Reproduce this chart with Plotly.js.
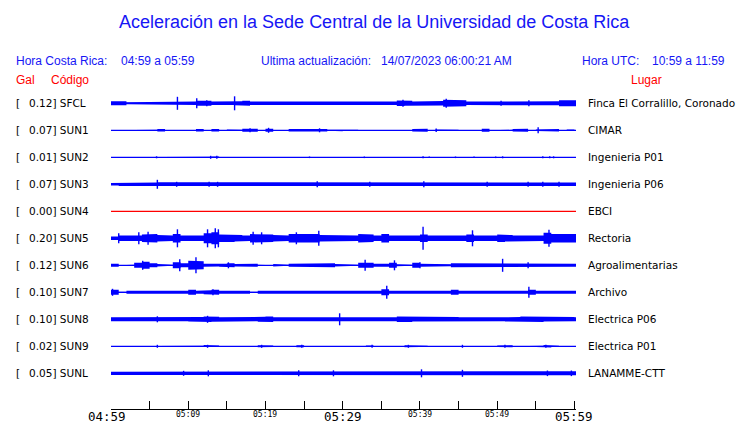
<!DOCTYPE html>
<html><head><meta charset="utf-8">
<script src="https://cdn.plot.ly/plotly-3.0.1.min.js"></script>
<style>html,body{margin:0;padding:0;background:#fff}#chart{width:740px;height:423px}</style>
</head><body><div id="chart"></div>
<script>
// ---- data ----
const stationCodes  = ['SFCL','SUN1','SUN2','SUN3','SUN4','SUN5','SUN6','SUN7','SUN8','SUN9','SUNL'];
const stationGal    = ['0.12','0.07','0.01','0.07','0.00','0.20','0.12','0.10','0.10','0.02','0.05'];
const stationPlaces = ['Finca El Corralillo, Coronado','CIMAR','Ingenieria P01','Ingenieria P06','EBCI','Rectoria',
                       'Agroalimentarias','Archivo','Electrica P06','Electrica P01','LANAMME-CTT'];
const stationColors = ['#0000ff','#0000ff','#0000ff','#0000ff','#ff0000','#0000ff','#0000ff','#0000ff','#0000ff','#0000ff','#0000ff'];

// minutes after 04:59 (start of each envelope sample)
const minuteStarts = [0,1,2,3,4,5,6,7,8,9,10,11,12,13,14,15,16,17,18,19,20,21,22,23,24,25,26,27,28,29,30,
  31,32,33,34,35,36,37,38,39,40,41,42,43,44,45,46,47,48,49,50,51,52,53,54,55,56,57,58,59,60];
const traceEnd = 60.25;

// envelope half-amplitude per minute (relative units, 27 = one row)
const envSFCL = [2,2,1,1.5,1,1.5,1,1.5,1.5,1.7, 1.7,2.5,2.5,1.7,1.7,1.7,2,2.5,1.7,1.7, 2.2,1.7,1.7,2.2,1.7,1.7,1.7,1.7,1.7,1.7,
  1.7,1.7,1.7,1.7,1.7,1.7,1.7,2.8,2.5,1.8, 1.8,1.8,2.2,3.5,3.2,3,1.8,1.8,1.8,1.8, 2,1.8,1.8,1.8,2,1.8,1.8,2,3,3, 3];
const envSUN1 = [0,0.7,0,0.7,0,0.5,1.3,0,0.5,0.5, 0,1.3,0,1.3,0,0.8,0.5,1.5,1.5,0, 1.5,0,0,1.2,1.5,1,1.5,1.3,0.5,1,
  0.5,0.5,0,0,0.5,0.6,0.6,0.6,0,1.3, 1.5,0,0.8,0.5,0.5,0,0.5,0,1.5,0, 0.5,0.5,1.3,1.5,0,0.8,1.3,1.3,0,0.8, 0];
const envSUN2 = [0,0,0,0,0,0,0,0,0,0, 0,0,0.6,0.8,0,0,0,0,0,0, 0,0,0,0,0,0,0,0,0,0,
  0,0,0,0,0,0,0,0,0,0, 0,0,0,0,0,0,0,0,0,0, 0,0,0,0,0,0,0,0,0,0, 0];
const envSUN3 = [1.2,1.8,1.4,1.4,1.6,1.8,2,1.8,1.8,1.8, 1.8,1.8,2,2,1.8,1.8,1.8,2,1.8,1.8, 1.8,1.8,2,1.8,1.8,1.8,1.8,1.8,1.8,1.8,
  1.8,1.8,1.8,2,1.8,1.8,1.8,2,2,1.8, 2,1.8,1.8,1.8,1.8,1.8,1.8,1.8,2,1.8, 1.8,1.8,1.8,1.8,2,1.8,2,1.8,2,1.8, 1.8];
const envSUN4 = [0,0,0,0,0,0,0,0,0,0, 0,0,0,0,0,0,0,0,0,0, 0,0,0,0,0,0,0,0,0,0,
  0,0,0,0,0,0,0,0,0,0, 0,0,0,0,0,0,0,0,0,0, 0,0,0,0,0,0,0,0,0,0, 0];
const envSUN5 = [1.8,2.8,2.3,2.8,3.7,4.2,3.2,2.8,4.2,2.8, 2.8,2.8,5,6,3.7,3.7,3.2,2.8,4.2,4.2, 3.7,3.2,2.8,4.2,4.2,4.2,4.2,3.2,2.8,2.8,
  2.8,2.8,4.2,3.7,2.8,4.2,2.8,2.8,2.8,2.8, 3.7,2.8,2.8,3.2,2.8,2.8,3.7,2.8,2.8,2.8, 3.7,3.2,2.8,3.2,3.2,2.8,5.5,4.2,4.2,4.7, 4.2];
const envSUN6 = [1.5,0,0.5,2.5,3.5,2,1.2,0.5,3,2, 4.5,4,1.5,1.2,1.5,2,1.2,1.5,1.5,0.5, 0,1.2,0.5,1.5,1.5,1.5,1.5,1.5,2,1.2,
  1,0.5,2.5,2.5,1.5,1.5,2.5,1,0.5,2.5, 1.5,1.5,1,1,2,1.8,1.5,1.5,1.5,1.5, 2,1.5,1.5,1.5,2,1.5,1.5,1.5,1.5,1.5, 1.5];
const envSUN7 = [2.5,0.5,1.5,1.5,1.5,1.5,1.5,2,1.5,1.5, 2.5,1.5,2,2.5,1.5,1.5,2,1.5,0.5,1.5, 1.5,1.5,1.5,1.5,1.5,1.5,1.5,1.5,1.5,1.5,
  1.5,1.5,1.5,1.5,1.5,3,1.5,1.5,1.5,1.5, 1.5,2,1.5,1.5,2.5,1.5,1.5,1.5,1.5,1.5, 1.5,2.2,1.5,1.5,2.5,1.5,1.5,1.5,1.5,1.5, 1.5];
const envSUN8 = [2,2,2,2,2,2,2.3,2,2.2,2, 2.2,2.3,2.8,2.5,2,2,2.3,2,2,2.5, 2.8,2,2,2,2.5,2.5,2.3,2,2.2,2.5,
  2,2,2,2.3,2.5,2.2,2,2.8,2.8,2.3, 2.5,2.3,2.2,2.5,2.3,2,2.2,2.2,2.5,2.5, 2,2.2,2.2,2.8,2.8,2.8,2.2,2.3,2.2,2.3, 2];
const envSUN9 = [0,0,0,0,0,0,0.6,0,0,0, 0,0.5,1.2,0.8,0,0,0,0,0,1, 0.8,0,0,0,1,0,0.5,0,0,0,
  0,0,0,0.8,0,0,0,0,1,0.8, 0.6,0,0,0,0,0.6,0,0,0,0, 0.8,1,0,0,0,0.6,1.2,0.5,0,0, 0];
const envSUNL = [1.6,1.8,1.8,1.8,1.8,1.8,1.8,1.8,1.8,2, 1.8,1.8,2,1.8,1.8,1.8,1.8,1.8,1.8,1.8, 1.8,1.8,1.8,1.8,2,1.8,1.8,1.8,2.2,1.8,
  1.8,1.8,1.8,1.8,1.8,1.8,1.8,1.8,1.8,2.3, 2.2,1.8,1.8,1.8,1.8,2.2,1.8,1.8,1.8,1.8, 1.8,1.8,1.8,1.8,1.8,1.8,2,1.8,1.8,1.8, 2];

// isolated peaks: [minute, half-amplitude]
const peaksSFCL = [[8.6,6.5],[11.1,5],[12.4,3],[16.0,7],[37.8,3.5],[43.4,4.5],[50.5,2.5],[54.1,3]];
const peaksSUN1 = [[18,2],[20.4,2.5],[27,2],[42.1,1.8],[55.3,3]];
const peaksSUN2 = [[5.9,1],[12.9,1.5],[13.7,1.5],[25.7,0.8],[32.8,0.8],[40.4,1],[41.2,0.8],[44.6,0.8],[47,0.8],[49.8,0.8],[50.7,1],[55.9,1],[56.8,1],[57.3,1]];
const peaksSUN3 = [[6,4.5],[8.5,2.5],[12.7,2.5],[13.8,2.5],[26.7,3],[33.5,2.5],[40.5,3],[48.7,2.5],[54,2.5],[55.9,2.5],[58,2.5]];
const peaksSUN4 = [];
const peaksSUN5 = [[1,5],[3.6,6],[4.8,6.5],[8.6,9],[12.5,9],[13.5,10],[13.9,9],[18.4,6.5],[19.5,6],[24,6],[26.9,7.5],[40.4,11.5],[46.8,8],[56.7,8.5]];
const peaksSUN6 = [[4.1,4.5],[8.9,6],[11.0,8],[15.2,3],[32.9,5.5],[36.7,5],[40,3],[50.7,6.5],[54,3]];
const peaksSUN7 = [[0.2,3.5],[13.2,3],[35.7,6.5],[54.1,5.5]];
const peaksSUN8 = [[6,3],[12.5,3.5],[29.6,6]];
const peaksSUN9 = [[6,1.5],[12.5,1.5],[19.5,1.5],[24.7,1.5],[33.8,1.5],[38.5,1.5],[45.5,1.5],[51,1.5],[56.3,1.5]];
const peaksSUNL = [[9.4,2.5],[12.6,3],[24.3,3],[28.8,3],[40.2,4],[45.5,3.5],[56.5,2.8],[59.6,2.8]];

const envelopes = [envSFCL,envSUN1,envSUN2,envSUN3,envSUN4,envSUN5,envSUN6,envSUN7,envSUN8,envSUN9,envSUNL];
const peaks = [peaksSFCL,peaksSUN1,peaksSUN2,peaksSUN3,peaksSUN4,peaksSUN5,peaksSUN6,peaksSUN7,peaksSUN8,peaksSUN9,peaksSUNL];

const tickTimes  = [0,5,10,15,20,25,30,35,40,45,50,55,60];
const labelTimes = [0,10,20,30,40,50,60];
const labelTexts = ['04:59','05:09','05:19','05:29','05:39','05:49','05:59'];

// ---- drawing ----
const AMP = 1/27;           // relative amplitude unit -> row units
const L = 111, W = 465, T = 90, H = 319, B = T + H;
const px = x => (x - L) / W;
const py = y => (B - y) / H;
const BLUE_TXT = 'rgb(22,22,245)';
const RED_TXT = '#ff0000';

const traces = [];
stationCodes.forEach((code, i) => {
  const c = -i, env = envelopes[i], col = stationColors[i];
  // envelope polygon (stepped)
  const xs = [], ys = [];
  for (let k = 0; k < minuteStarts.length; k++) {
    const t0 = minuteStarts[k], t1 = k + 1 < minuteStarts.length ? minuteStarts[k + 1] : traceEnd;
    xs.push(t0, t1); ys.push(c + env[k] * AMP, c + env[k] * AMP);
  }
  for (let k = minuteStarts.length - 1; k >= 0; k--) {
    const t0 = minuteStarts[k], t1 = k + 1 < minuteStarts.length ? minuteStarts[k + 1] : traceEnd;
    xs.push(t1, t0); ys.push(c - env[k] * AMP, c - env[k] * AMP);
  }
  traces.push({type:'scatter', mode:'lines', x:xs, y:ys, fill:'toself', fillcolor:col,
    line:{width:0, color:col}, hoverinfo:'skip'});
  // base trace line
  traces.push({type:'scatter', mode:'lines', x:[minuteStarts[0], traceEnd], y:[c, c],
    line:{width:1.3, color:col}, hoverinfo:'skip'});
  // isolated peaks
  const sx = [], sy = [];
  peaks[i].forEach(([t, a]) => { sx.push(t, t, null); sy.push(c - a * AMP, c + a * AMP, null); });
  if (sx.length) traces.push({type:'scatter', mode:'lines', x:sx, y:sy, line:{width:1.4, color:col}, hoverinfo:'skip'});
});

const ann = [];
const A = (o) => ann.push(Object.assign({showarrow:false, xanchor:'left', yanchor:'middle', borderpad:0}, o));
A({text:'Aceleración en la Sede Central de la Universidad de Costa Rica', xref:'paper', yref:'paper',
   x:px(374.5), y:py(22), xanchor:'center', font:{family:'Liberation Sans, Arial', size:18, color:BLUE_TXT}});
const hf = {family:'Liberation Sans, Arial', size:12, color:BLUE_TXT};
A({text:'Hora Costa Rica:', xref:'paper', yref:'paper', x:px(15), y:py(61), font:hf});
A({text:'04:59 a 05:59', xref:'paper', yref:'paper', x:px(120), y:py(61), font:hf});
A({text:'Ultima actualización:', xref:'paper', yref:'paper', x:px(260), y:py(61), font:hf});
A({text:'14/07/2023 06:00:21 AM', xref:'paper', yref:'paper', x:px(380), y:py(61), font:hf});
A({text:'Hora UTC:', xref:'paper', yref:'paper', x:px(580.5), y:py(61), font:hf});
A({text:'10:59 a 11:59', xref:'paper', yref:'paper', x:px(650.5), y:py(61), font:hf});
const rf = {family:'Liberation Sans, Arial', size:12, color:RED_TXT};
A({text:'Gal', xref:'paper', yref:'paper', x:px(15), y:py(80), font:rf});
A({text:'Código', xref:'paper', yref:'paper', x:px(50), y:py(80), font:rf});
A({text:'Lugar', xref:'paper', yref:'paper', x:px(630), y:py(80), font:rf});

const sf = {family:'DejaVu Sans', size:10.5, color:'#000'};
stationCodes.forEach((code, i) => {
  A({text:'[', xref:'paper', yref:'y', x:px(14.5), y:-i, font:sf});
  A({text:stationGal[i] + '] ' + code, xref:'paper', yref:'y', x:px(27.5), y:-i, font:sf});
  A({text:stationPlaces[i], xref:'paper', yref:'y', x:px(587), y:-i, font:sf});
});
labelTimes.forEach((t, j) => {
  const major = j % 3 === 0;
  A({text:labelTexts[j], xref:'x', yref:'paper', x:t, y:py(major ? 416 : 414.5), xanchor:'center',
     xshift: j === 0 ? -4 : 0,
     font:{family:'DejaVu Sans Mono', size: major ? 12.5 : 8, color:'#000'}});
});

const layout = {
  width:740, height:423, showlegend:false,
  paper_bgcolor:'#fff', plot_bgcolor:'#fff',
  margin:{l:L, r:740 - L - W, t:T, b:423 - B},
  xaxis:{range:[0, 60.2], tickmode:'array', tickvals:tickTimes, showticklabels:false,
         ticks:'inside', ticklen:8, tickwidth:1, tickcolor:'#000',
         showline:true, linecolor:'#000', linewidth:1, showgrid:false, zeroline:false, fixedrange:true},
  yaxis:{range:[-11.322, 0.4926], visible:false, showgrid:false, zeroline:false, fixedrange:true},
  annotations:ann
};
Plotly.newPlot('chart', traces, layout, {staticPlot:true, displayModeBar:false});
</script>
</body></html>
